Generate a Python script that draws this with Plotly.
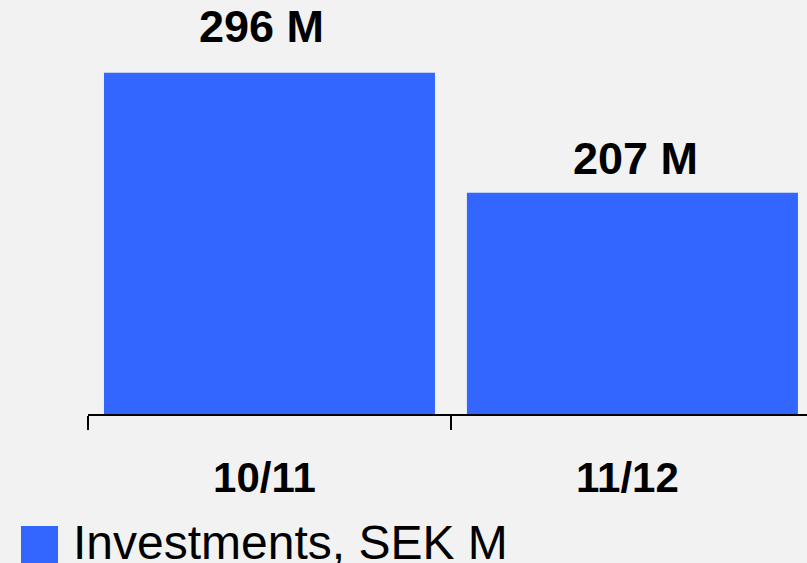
import plotly.graph_objects as go

periods = ["10/11", "11/12"]
investments = [296, 207]
value_labels = ["296 M", "207 M"]
legend_name = "Investments, SEK M"

bar_color = "#3366ff"
bg = "#f2f2f2"
font = "Arial, Liberation Sans, sans-serif"

fig = go.Figure()
fig.add_trace(
    go.Bar(
        x=periods,
        y=investments,
        name=legend_name,
        marker=dict(color=bar_color, line=dict(width=0)),
        showlegend=False,
        hoverinfo="skip",
    )
)

# value labels above the bars (placed a bit unevenly in the original)
label_shift = [19, 7]
label_xshift = [-8, 3]
for p, v, t, s, xs in zip(periods, investments, value_labels, label_shift, label_xshift):
    fig.add_annotation(
        x=p, y=v, text="<b>%s</b>" % t, showarrow=False,
        yanchor="bottom", yshift=s, xshift=xs,
        font=dict(family=font, size=45, color="black"),
    )

# hand-made legend (big square + text at bottom left)
fig.add_shape(
    type="rect", xref="paper", yref="paper",
    x0=-0.0932, x1=-0.0417, y0=-0.3647, y1=-0.2705,
    fillcolor=bar_color, line=dict(width=0),
)
fig.add_annotation(
    xref="paper", yref="paper", x=-0.024, y=-0.31,
    xanchor="left", yanchor="middle", showarrow=False,
    text=legend_name, font=dict(family=font, size=48, color="black"),
)

fig.update_layout(
    width=807,
    height=563,
    margin=dict(l=88, r=0, t=0, b=149),
    paper_bgcolor=bg,
    plot_bgcolor=bg,
    bargap=0.088,
    showlegend=False,
    font=dict(family=font, color="black"),
)
fig.update_xaxes(
    range=[-0.5, 1.481],
    showline=True, linecolor="black", linewidth=2,
    ticks="outside", tickson="boundaries", ticklen=14, tickwidth=2,
    tickcolor="black", showgrid=False, zeroline=False,
    tickprefix="<b>", ticksuffix="</b>",
    tickfont=dict(family=font, size=42, color="black"),
    ticklabelstandoff=26,
    ticklabelshift=-5,
)
fig.update_yaxes(
    range=[43, 350],
    visible=False, showgrid=False, zeroline=False,
)

fig.write_html(
    "out.html",
    config={"displayModeBar": False},
    post_script="document.body.style.margin='0';document.body.style.overflow='hidden';",
)
